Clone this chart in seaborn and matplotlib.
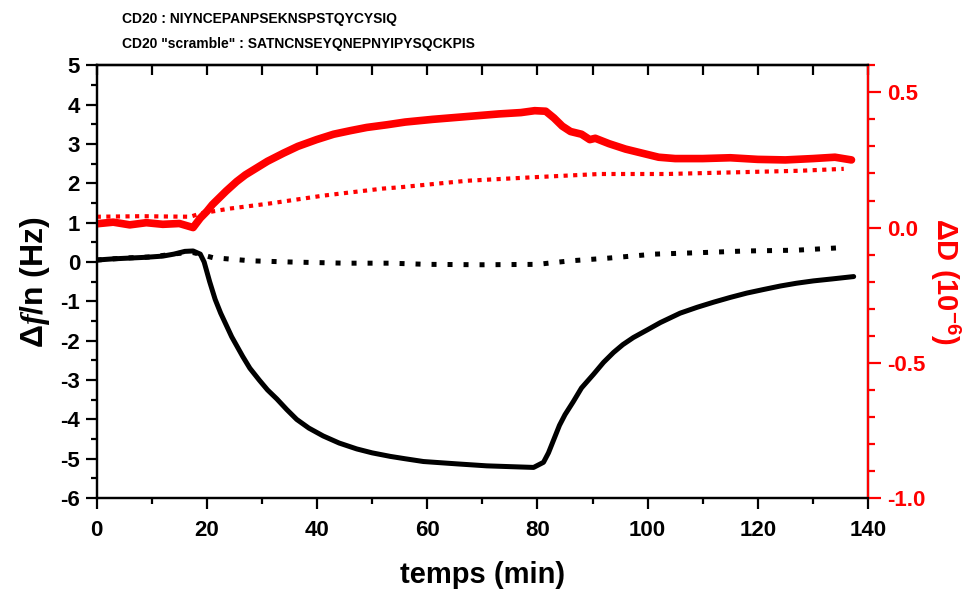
import numpy as np
import pandas as pd
import seaborn as sns
import matplotlib.pyplot as plt
from matplotlib.ticker import MultipleLocator

# CD20 frequency shift (Hz), left axis
t_f = [0, 3, 6, 9, 12, 14, 16, 17.5, 18.8, 19.5, 20.5, 21.5, 22.5, 23.5, 24.5, 25.5, 26.5,
       27.8, 29.5, 31, 32.7, 34.5, 36.3, 38.5, 41.1, 44, 47.2, 50, 53.3, 56, 59.3, 65.4,
       70.8, 75, 79.3, 81.1, 82, 83, 84, 85, 86.5, 88, 90.2, 92, 93.8, 95.5, 97.4, 100,
       102.3, 105.9, 109, 112, 115, 118, 121, 124.1, 127, 130.1, 133.5, 137.4]
df_cd20 = [0.05, 0.08, 0.1, 0.12, 0.15, 0.2, 0.27, 0.28, 0.2, 0.0, -0.5, -0.95, -1.3,
           -1.6, -1.9, -2.15, -2.4, -2.7, -3.0, -3.25, -3.48, -3.75, -4.0, -4.22, -4.42,
           -4.6, -4.75, -4.85, -4.94, -5.0, -5.07, -5.13, -5.18, -5.2, -5.22, -5.09,
           -4.85, -4.5, -4.15, -3.88, -3.55, -3.2, -2.85, -2.55, -2.3, -2.1, -1.92, -1.72,
           -1.54, -1.3, -1.15, -1.02, -0.9, -0.79, -0.7, -0.61, -0.54, -0.48, -0.43, -0.37]

# scramble frequency shift (Hz)
t_fs = [0, 5, 10, 15, 17.5, 21.1, 28, 35.1, 45, 53.3, 60, 70, 80, 86, 93, 101.2,
        110, 117.8, 127, 136]
df_scr = [0.05, 0.1, 0.13, 0.22, 0.24, 0.11, 0.03, 0.0, -0.03, -0.03, -0.06, -0.07,
          -0.06, 0.03, 0.1, 0.2, 0.24, 0.28, 0.3, 0.37]

# CD20 dissipation (1e-6), right axis
t_d = [0, 3, 6, 9, 12, 15, 17.5, 18.8, 20, 21, 22, 23.5, 25.4, 27, 29, 31, 33.9, 36.5,
       39.9, 43, 46, 49, 52.7, 56, 61, 67, 73, 77, 79.5, 81.5, 83, 84.5, 86, 88, 89.5,
       90.5, 93, 96, 99, 102, 105, 110, 115, 120, 125, 130, 134, 137]
dD_cd20 = [0.014, 0.02, 0.01, 0.018, 0.012, 0.015, 0.0, 0.035, 0.06, 0.085, 0.105, 0.135,
           0.17, 0.195, 0.22, 0.245, 0.275, 0.3, 0.325, 0.345, 0.358, 0.37, 0.38, 0.39,
           0.4, 0.41, 0.42, 0.425, 0.432, 0.43, 0.405, 0.375, 0.355, 0.345, 0.325, 0.33,
           0.31, 0.29, 0.275, 0.26, 0.255, 0.255, 0.258, 0.252, 0.25, 0.255, 0.26, 0.25]

# scramble dissipation (1e-6)
t_ds = [0, 8, 17, 18.8, 24.1, 31.4, 41.1, 51.9, 55.1, 67.2, 79.3, 91.3, 103.4, 115.5,
        127.7, 135.6]
dD_scr = [0.04, 0.042, 0.04, 0.052, 0.07, 0.089, 0.118, 0.144, 0.149, 0.173, 0.186,
          0.198, 0.198, 0.204, 0.21, 0.217]

sns.set_style("ticks")
plt.rcParams['font.family'] = ['Liberation Sans', 'DejaVu Sans']
plt.rcParams['font.weight'] = 'bold'
plt.rcParams['mathtext.fontset'] = 'custom'
plt.rcParams['mathtext.it'] = 'Liberation Serif:italic:bold'
plt.rcParams['mathtext.rm'] = 'Liberation Sans:bold'
plt.rcParams['axes.unicode_minus'] = False
for key in ['text.color', 'axes.edgecolor', 'axes.labelcolor', 'xtick.color', 'ytick.color']:
    plt.rcParams[key] = 'black'

fig = plt.figure(figsize=(9.72, 5.93), dpi=100)
ax = fig.add_axes([0.0995, 0.16, 0.7935, 0.73])
ax2 = ax.twinx()

sns.lineplot(x=t_f, y=df_cd20, ax=ax, color="black", linewidth=3.6, sort=False, estimator=None)
sns.lineplot(x=t_fs, y=df_scr, ax=ax, color="black", linewidth=3.6, sort=False,
             estimator=None, linestyle=(0, (1, 2.2)))
sns.lineplot(x=t_d, y=dD_cd20, ax=ax2, color="red", linewidth=5.5, sort=False, estimator=None)
sns.lineplot(x=t_ds, y=dD_scr, ax=ax2, color="red", linewidth=3, sort=False,
             estimator=None, linestyle=(0, (1, 1.3)))

ax.set_xlim(0, 140)
ax.set_ylim(-6, 5)
ax2.set_ylim(-1.0, 0.6)

ax.xaxis.set_major_locator(MultipleLocator(20))
ax.xaxis.set_minor_locator(MultipleLocator(10))
ax.yaxis.set_major_locator(MultipleLocator(1))
ax.yaxis.set_minor_locator(MultipleLocator(0.5))
ax2.yaxis.set_major_locator(MultipleLocator(0.5))
ax2.yaxis.set_minor_locator(MultipleLocator(0.1))

for a in (ax, ax2):
    for s in a.spines.values():
        s.set_linewidth(1.6)
        s.set_color('black')
ax2.spines['right'].set_color('red')

ax.tick_params(axis='both', which='major', direction='out', length=8, width=1.6,
               labelsize=16, pad=4)
ax.tick_params(axis='both', which='minor', direction='out', length=4.5, width=1.6)
ax.tick_params(axis='x', which='major', pad=8)
ax2.tick_params(axis='y', which='major', direction='out', length=9, width=1.6,
                colors='red', labelsize=16, pad=5)
ax2.tick_params(axis='y', which='minor', direction='out', length=5, width=1.6, colors='red')

# top axis: inward ticks every 10 min, no labels
top = ax.secondary_xaxis('top')
top.xaxis.set_major_locator(MultipleLocator(10))
top.tick_params(direction='in', length=7, width=1.6, labeltop=False)
top.spines['top'].set_linewidth(1.6)

ax2.set_yticklabels([f"{v:.1f}" for v in ax2.get_yticks()])
for lab in ax.get_xticklabels() + ax.get_yticklabels() + ax2.get_yticklabels():
    lab.set_fontweight('bold')

ax.set_xlabel("temps (min)", fontsize=21, fontweight='bold', labelpad=14)
ax.set_ylabel("Δ$\\mathit{f}$/n (Hz)", fontsize=23, fontweight='bold', labelpad=6)
ax2.set_ylabel("ΔD (10$^{-6}$)", fontsize=21, fontweight='bold', color='red',
               rotation=270, labelpad=26)

fig.text(0.1255, 0.968, "CD20 : NIYNCEPANPSEKNSPSTQYCYSIQ", fontsize=10,
         fontweight='bold', va='center')
fig.text(0.1255, 0.926, 'CD20 "scramble" : SATNCNSEYQNEPNYIPYSQCKPIS', fontsize=10,
         fontweight='bold', va='center')

fig.savefig("out.png", dpi=100)
